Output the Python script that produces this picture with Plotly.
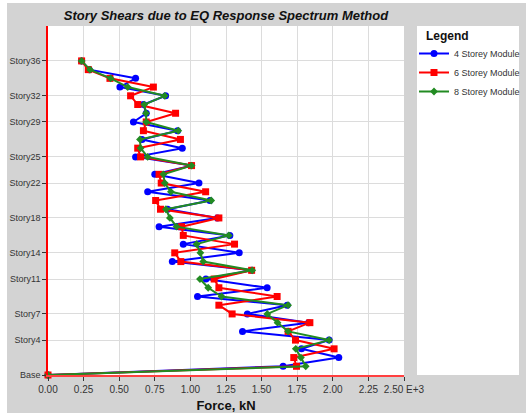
import plotly.graph_objects as go

# Story index positions (Base = 0 ... Story36 = 36)
stories = list(range(37))

# Story shear forces in kN x 1E+3, Base -> Story36
shear_4 = [0, 1.651, 2.042, 1.78, 1.974, 1.366, 1.83, 1.40, 1.68, 1.05,
           1.539, 1.109, 1.43, 0.873, 1.343, 0.95, 1.277, 0.78, 1.19, 0.84,
           1.137, 0.70, 1.06, 0.75, 1.008, 0.615, 0.943, 0.66, 0.91, 0.60,
           0.69, 0.67, 0.826, 0.505, 0.615, 0.29, 0.236]
shear_6 = [0, 1.745, 1.726, 2.009, 1.738, 1.686, 1.839, 1.293, 1.20, 1.609,
           1.20, 1.167, 1.43, 0.933, 0.89, 1.31, 0.95, 0.938, 1.20, 0.79,
           0.756, 1.107, 0.795, 0.78, 1.008, 0.65, 0.63, 0.93, 0.67, 0.69,
           0.896, 0.63, 0.58, 0.74, 0.435, 0.283, 0.236]
shear_8 = [0, 1.81, 1.776, 1.74, 1.974, 1.686, 1.612, 1.54, 1.686, 1.219,
           1.125, 1.067, 1.434, 1.09, 1.07, 1.043, 1.27, 0.903, 0.856, 0.828,
           1.146, 0.863, 0.82, 0.81, 1.008, 0.70, 0.65, 0.646, 0.915, 0.69,
           0.688, 0.676, 0.82, 0.56, 0.44, 0.295, 0.236]

series_names = ["4 Storey Module", "6 Storey Module", "8 Storey Module"]

y_tickvals = [0, 4, 7, 11, 14, 18, 22, 25, 29, 32, 36]
y_ticktext = ["Base", "Story4", "Story7", "Story11", "Story14", "Story18",
              "Story22", "Story25", "Story29", "Story32", "Story36"]
x_tickvals = [0, 0.25, 0.5, 0.75, 1.0, 1.25, 1.5, 1.75, 2.0, 2.25, 2.5]
x_ticktext = ["0.00", "0.25", "0.50", "0.75", "1.00", "1.25", "1.50",
              "1.75", "2.00", "2.25", "2.50 E+3"]

W, H = 526, 413
L, R, T, B = 48, 404, 26, 375  # plot area in pixels
pw, ph = R - L, B - T


def px_x(p):
    return (p - L) / pw


def px_y(p):
    return (B - p) / ph


fig = go.Figure()
styles = [("#0000ff", "circle", 7), ("#ff0000", "square", 7), ("#228b22", "diamond", 6)]
for name, vals, (col, sym, sz) in zip(series_names, [shear_4, shear_6, shear_8], styles):
    fig.add_trace(go.Scatter(
        x=vals, y=stories, mode="lines+markers", name=name,
        line=dict(color=col, width=2),
        marker=dict(color=col, symbol=sym, size=sz),
        cliponaxis=False,
    ))

shapes = [
    # grey chart background (leaves a thin white margin top/left)
    dict(type="rect", xref="paper", yref="paper", layer="below",
         x0=px_x(7), x1=px_x(W + 2), y0=px_y(H + 2), y1=px_y(3),
         fillcolor="#d3d3d3", line=dict(width=0)),
    # white plot area
    dict(type="rect", xref="paper", yref="paper", layer="below",
         x0=0, x1=1, y0=0, y1=1, fillcolor="white", line=dict(width=0)),
    # legend box
    dict(type="rect", xref="paper", yref="paper", layer="below",
         x0=px_x(417), x1=px_x(519), y0=px_y(375), y1=px_y(26),
         fillcolor="white", line=dict(width=0)),
]

fig.update_layout(
    width=W, height=H,
    margin=dict(l=L, r=W - R, t=T, b=H - B, pad=0, autoexpand=False),
    paper_bgcolor="white", plot_bgcolor="rgba(0,0,0,0)",
    font=dict(family="Liberation Sans, Arial, sans-serif", size=10, color="#222"),
    title=dict(text="<b><i>Story Shears due to EQ Response Spectrum Method</i></b>",
               x=226 / W, xanchor="center",
               y=1 - 15 / H, yanchor="middle",
               font=dict(size=13, color="#111")),
    shapes=shapes,
    annotations=[dict(text="<b>Legend</b>", xref="paper", yref="paper",
                      x=px_x(424), y=px_y(36), xanchor="left", yanchor="middle",
                      showarrow=False, font=dict(size=12, color="#111"))],
    showlegend=True,
    legend=dict(
        x=px_x(414), y=px_y(39), xanchor="left", yanchor="top",
        bgcolor="rgba(0,0,0,0)", borderwidth=0,
        font=dict(size=9, color="#333"),
        itemwidth=30, tracegroupgap=0,
    ),
    xaxis=dict(
        range=[0, 2.5], tickvals=x_tickvals, ticktext=x_ticktext,
        showgrid=True, gridcolor="#dcdcdc", gridwidth=1,
        showline=True, linecolor="#ff4040", linewidth=1.5,
        ticks="outside", ticklen=4, tickcolor="#333",
        zeroline=False,
        title=dict(text="<b>Force, kN</b>", font=dict(size=13, color="#111"), standoff=8),
        tickfont=dict(size=10, color="#333"),
    ),
    yaxis=dict(
        range=[0, 40], tickvals=y_tickvals, ticktext=y_ticktext,
        showgrid=True, gridcolor="#dcdcdc", gridwidth=1,
        showline=True, linecolor="#ff0000", linewidth=1.5,
        ticks="outside", ticklen=4, tickcolor="#333",
        zeroline=False,
        tickfont=dict(size=9, color="#333"),
    ),
)

fig.write_html("out.html")
